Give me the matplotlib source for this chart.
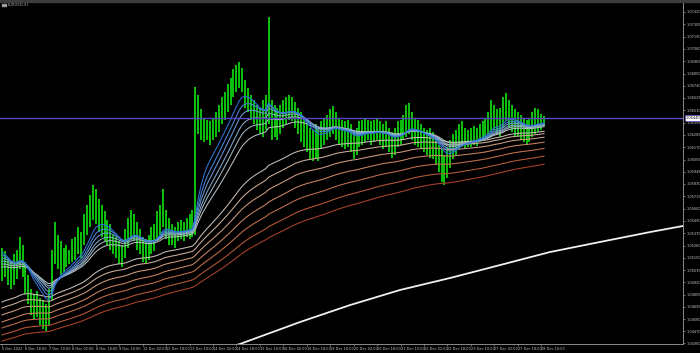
import numpy as np
import matplotlib
matplotlib.use("Agg")
import matplotlib.pyplot as plt
from matplotlib.patches import Rectangle
import matplotlib.transforms as mtransforms

symbol = "EURUSD,H1"
bid = 1.06440

# 2-hour bars (high / low)
high = [1.0524,1.0521,1.0515,1.0511,1.0518,1.0522,1.0534,1.0527,1.0511,1.0499,
        1.0486,1.0481,1.0484,1.0478,1.0476,1.0472,1.0486,1.0522,1.0548,1.0536,
        1.0530,1.0524,1.0527,1.0522,1.0532,1.0534,1.0543,1.0539,1.0555,1.0564,
        1.0573,1.0582,1.0578,1.0569,1.0564,1.0558,1.0550,1.0546,1.0536,1.0534,
        1.0530,1.0527,1.0541,1.0552,1.0559,1.0555,1.0548,1.0541,1.0534,1.0532,
        1.0536,1.0543,1.0546,1.0558,1.0564,1.0578,1.0559,1.0552,1.0546,1.0543,
        1.0548,1.0550,1.0548,1.0552,1.0555,1.0559,1.0673,1.0665,1.0652,1.0644,
        1.0642,1.0641,1.0644,1.0650,1.0656,1.0663,1.0668,1.0675,1.0681,1.0689,
        1.0693,1.0696,1.0690,1.0679,1.0672,1.0665,1.0661,1.0656,1.0653,1.0661,
        1.0665,1.0737,1.0661,1.0656,1.0653,1.0656,1.0661,1.0663,1.0665,1.0663,
        1.0659,1.0653,1.0650,1.0644,1.0641,1.0635,1.0633,1.0638,1.0635,1.0641,
        1.0644,1.0647,1.0652,1.0655,1.0650,1.0644,1.0642,1.0641,1.0642,1.0638,
        1.0633,1.0635,1.0641,1.0642,1.0644,1.0642,1.0641,1.0642,1.0644,1.0641,
        1.0638,1.0641,1.0635,1.0631,1.0635,1.0641,1.0642,1.0647,1.0656,1.0658,
        1.0650,1.0644,1.0642,1.0638,1.0635,1.0633,1.0635,1.0631,1.0626,1.0619,
        1.0615,1.0610,1.0617,1.0624,1.0629,1.0633,1.0638,1.0641,1.0635,1.0633,
        1.0635,1.0637,1.0635,1.0638,1.0641,1.0644,1.0650,1.0661,1.0656,1.0652,
        1.0653,1.0663,1.0667,1.0661,1.0656,1.0652,1.0650,1.0647,1.0644,1.0642,
        1.0644,1.0650,1.0653,1.0652,1.0648,1.0646]
low = [1.0493,1.0497,1.0490,1.0486,1.0490,1.0495,1.0504,1.0497,1.0481,1.0472,
       1.0462,1.0458,1.0460,1.0453,1.0449,1.0447,1.0453,1.0476,1.0509,1.0504,
       1.0499,1.0502,1.0506,1.0509,1.0511,1.0513,1.0518,1.0515,1.0527,1.0536,
       1.0543,1.0550,1.0546,1.0539,1.0534,1.0530,1.0527,1.0522,1.0518,1.0515,
       1.0509,1.0506,1.0515,1.0524,1.0532,1.0530,1.0522,1.0518,1.0511,1.0510,
       1.0513,1.0518,1.0521,1.0530,1.0536,1.0543,1.0532,1.0527,1.0527,1.0524,
       1.0530,1.0532,1.0530,1.0534,1.0532,1.0534,1.0536,1.0629,1.0624,1.0622,
       1.0624,1.0619,1.0624,1.0626,1.0631,1.0638,1.0642,1.0650,1.0656,1.0663,
       1.0668,1.0672,1.0668,1.0653,1.0650,1.0642,1.0638,1.0633,1.0629,1.0626,
       1.0633,1.0638,1.0624,1.0626,1.0624,1.0629,1.0635,1.0638,1.0642,1.0641,
       1.0635,1.0629,1.0622,1.0617,1.0613,1.0606,1.0604,1.0607,1.0604,1.0615,
       1.0619,1.0624,1.0626,1.0629,1.0624,1.0619,1.0617,1.0615,1.0617,1.0613,
       1.0606,1.0610,1.0617,1.0619,1.0622,1.0624,1.0619,1.0622,1.0624,1.0619,
       1.0615,1.0617,1.0613,1.0607,1.0610,1.0617,1.0619,1.0624,1.0626,1.0629,
       1.0624,1.0619,1.0617,1.0615,1.0613,1.0610,1.0607,1.0606,1.0601,1.0594,
       1.0585,1.0582,1.0589,1.0598,1.0606,1.0610,1.0615,1.0617,1.0615,1.0617,
       1.0617,1.0619,1.0618,1.0622,1.0624,1.0626,1.0628,1.0631,1.0633,1.0629,
       1.0626,1.0635,1.0641,1.0635,1.0631,1.0626,1.0626,1.0624,1.0622,1.0619,
       1.0622,1.0626,1.0629,1.0631,1.0633,1.0637]

# moving-average ribbon: periods (in these bars) and values read at the left edge
ma_periods = [10, 13, 16, 20, 24, 30, 60, 72, 86, 102, 120, 140, 160]
ma_start = [1.05201, 1.05174, 1.05146, 1.05118, 1.05090, 1.05063,
            1.04739, 1.04683, 1.04619, 1.04554, 1.04499, 1.04434, 1.04378]
ma_colors = ['#2f72d8', '#4a86d8', '#6a9ad2', '#86aacc', '#a0b6c6', '#b8c0c4',
             '#cabfb6', '#cfb09c', '#d09c80', '#cc8664', '#c6704c', '#bc5a38', '#ac4428']

# long white average (bar index, value)
white_idx = [74.4, 81.2, 101.7, 118.8, 135.8, 152.9, 170.0, 187.0, 204.1, 221.2, 232.4]
white_val = [1.04295, 1.04351, 1.04554, 1.04711, 1.04850, 1.04961, 1.05081,
             1.05201, 1.05294, 1.05386, 1.05442]

ytick_labels = ["1.07420", "1.07305", "1.07190", "1.07080", "1.06965", "1.06850",
                "1.06740", "1.06625", "1.06510", "1.06395", "1.06285", "1.06170",
                "1.06055", "1.05945", "1.05830", "1.05715", "1.05600", "1.05490",
                "1.05375", "1.05260", "1.05150", "1.05035", "1.04920", "1.04805",
                "1.04695", "1.04580", "1.04470", "1.04360"]
xtick_labels = ["5 Dec 2022", "6 Dec 18:00", "7 Dec 10:00", "8 Dec 02:00", "8 Dec 18:00",
                "9 Dec 10:00", "12 Dec 02:00", "12 Dec 18:00", "13 Dec 10:00", "14 Dec 02:00",
                "14 Dec 18:00", "15 Dec 10:00", "16 Dec 02:00", "16 Dec 18:00", "19 Dec 10:00",
                "20 Dec 02:00", "20 Dec 18:00", "21 Dec 10:00", "22 Dec 02:00", "22 Dec 18:00",
                "23 Dec 10:00", "27 Dec 02:00", "27 Dec 18:00", "28 Dec 10:00"]
xtick_step = 8

W, H = 700, 353
fig = plt.figure(figsize=(W / 100, H / 100), dpi=100, facecolor='black')
ax = fig.add_axes([0, 9 / H, 683 / W, 341 / H])
ax.set_facecolor('black')

hi = np.array(high)
lo = np.array(low)
idx = np.arange(len(hi))
med = (hi + lo) / 2

# moving averages (median price)
for p, s, c in zip(ma_periods[::-1], ma_start[::-1], ma_colors[::-1]):
    a = 2.0 / (p + 1)
    ema = np.empty(len(med))
    ema[0] = s
    for t in range(1, len(med)):
        ema[t] = ema[t - 1] + a * (med[t] - ema[t - 1])
    ax.plot(idx, ema, color=c, lw=0.75, zorder=3)

ax.vlines(idx, lo, hi, colors='#10ee10', lw=1.15, zorder=2)

ax.plot(white_idx, white_val, color='#f0f0f0', lw=1.3, zorder=3)

ax.axhline(bid, color='#5a46c0', lw=1.0, zorder=4)

ax.set_xlim(-0.68, 232.4)
ax.set_ylim(1.04351, 1.07503)

ax.yaxis.tick_right()
ax.set_yticks([float(v) for v in ytick_labels])
ax.set_yticklabels(ytick_labels)
ax.set_xticks(np.arange(len(xtick_labels)) * xtick_step)
ax.set_xticklabels(xtick_labels, ha='left')
ax.tick_params(axis='both', colors='#9a9a9a', labelcolor='#c8c8c8', labelsize=2.5,
               length=1.5, width=0.5, pad=1)
for sp in ['top', 'left']:
    ax.spines[sp].set_visible(False)
for sp in ['right', 'bottom']:
    ax.spines[sp].set_color('#8a8a8a')
    ax.spines[sp].set_linewidth(0.7)

# bid price label
tr = mtransforms.blended_transform_factory(ax.transAxes, ax.transData)
ax.text(1.004, bid, f"{bid:.5f}", transform=tr, fontsize=2.5, color='black',
        va='center', ha='left', zorder=6,
        bbox=dict(boxstyle='square,pad=0.25', fc='white', ec='#5a46c0', lw=0.5))

# window strip and symbol caption
fig.patches.append(Rectangle((0, 1 - 2 / H), 1, 2 / H, transform=fig.transFigure,
                             color='#3c3c3c', zorder=0))
fig.patches.append(Rectangle((2 / W, 1 - 6 / H), 4 / W, 2.5 / H, transform=fig.transFigure,
                             color='#9a9a9a', zorder=5))
fig.text(8 / W, 1 - 5 / H, symbol, fontsize=2.6, color='#a8a8a8', va='center', ha='left')

fig.savefig('out.png', dpi=100, facecolor='black')
